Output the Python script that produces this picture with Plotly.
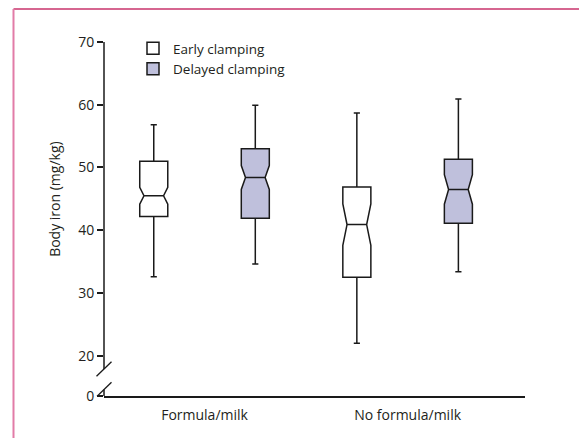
import plotly.graph_objects as go

# ---------------- data ----------------
categories = ["Formula/milk", "No formula/milk"]

early_lower = [32.6, 22.0]
early_q1 = [42.2, 32.5]
early_median = [45.5, 40.9]
early_q3 = [51.0, 46.9]
early_upper = [56.8, 58.7]
early_notch = [1.35, 3.3]

delayed_lower = [34.6, 33.4]
delayed_q1 = [41.9, 41.1]
delayed_median = [48.4, 46.5]
delayed_q3 = [53.0, 51.3]
delayed_upper = [59.9, 60.9]
delayed_notch = [1.9, 2.35]

y_tick_values = [0, 20, 30, 40, 50, 60, 70]
y_tick_labels = ["0", "20", "30", "40", "50", "60", "70"]

# ---------------- styling / layout constants ----------------
# the page body has an 8px default margin, so figure pixels = page pixels - 8
OFF = 8
W, H = 587 - OFF, 438 - OFF
ML, MT = 104 - OFF, 42 - OFF
PLOT_W, PLOT_H = 421, 354
MR = W - ML - PLOT_W
MB = H - MT - PLOT_H
AXIS_FLOOR = 13.58       # axis value drawn at the "0" position (broken axis)
BREAK_HI = 17.88         # upper break slash (axis value)
BREAK_LO = 14.61         # lower break slash (axis value)
TEXT = "#231f20"
LINE = "#1a1a1a"
FILL_DELAYED = "#bfc0dc"
FONT = "Open Sans"
FS = 14

def map_tick(v):
    return AXIS_FLOOR if v == 0 else v

def px_x(page_x):
    return (page_x - OFF - ML) / PLOT_W

def px_y(page_y):
    return 1 - (page_y - OFF - MT) / PLOT_H

fig = go.Figure()
fig.add_trace(go.Box(
    name="Early clamping", x=categories,
    q1=early_q1, median=early_median, q3=early_q3,
    lowerfence=early_lower, upperfence=early_upper, notchspan=early_notch,
    notched=True, notchwidth=0.15, whiskerwidth=0.22, boxpoints=False,
    fillcolor="white", line=dict(color=LINE, width=1.5),
))
fig.add_trace(go.Box(
    name="Delayed clamping", x=categories,
    q1=delayed_q1, median=delayed_median, q3=delayed_q3,
    lowerfence=delayed_lower, upperfence=delayed_upper, notchspan=delayed_notch,
    notched=True, notchwidth=0.15, whiskerwidth=0.22, boxpoints=False,
    fillcolor=FILL_DELAYED, line=dict(color=LINE, width=1.5),
))

shapes = []
# y axis line with a gap between the break marks
for y0, y1 in [(BREAK_HI, 70), (AXIS_FLOOR, BREAK_LO)]:
    shapes.append(dict(type="line", xref="paper", yref="y", x0=0, x1=0, y0=y0, y1=y1,
                       line=dict(color=LINE, width=1.5)))
# break slashes
for yc in [BREAK_HI, BREAK_LO]:
    shapes.append(dict(type="line", xref="paper", yref="y",
                       xsizemode="pixel", xanchor=0, x0=-7.5, x1=7.5,
                       ysizemode="pixel", yanchor=yc, y0=-7.3, y1=7.3,
                       line=dict(color=LINE, width=1.3)))
# pink frame (top crimson line, pink sides)
fx0, fx1 = px_x(13.5), px_x(582)
fy_top, fy_bot = px_y(9), px_y(460)
shapes.append(dict(type="line", xref="paper", yref="paper", x0=fx0, x1=fx1, y0=fy_top, y1=fy_top,
                   line=dict(color="#c8336b", width=1.6)))
for fx in [fx0, fx1]:
    shapes.append(dict(type="line", xref="paper", yref="paper", x0=fx, x1=fx, y0=fy_bot, y1=fy_top,
                       line=dict(color="#e27ca7", width=2)))

fig.update_layout(
    width=W, height=H,
    margin=dict(l=ML, r=MR, t=MT, b=MB, pad=0, autoexpand=False),
    paper_bgcolor="white", plot_bgcolor="white",
    font=dict(family=FONT, size=FS, color=TEXT),
    boxmode="group", boxgap=0.0, boxgroupgap=0.724,
    showlegend=True,
    legend=dict(x=px_x(133), xanchor="left", y=px_y(33), yanchor="top",
                bgcolor="rgba(0,0,0,0)", font=dict(family=FONT, size=13.5, color=TEXT),
                tracegroupgap=0, itemclick=False),
    xaxis=dict(type="category", range=[-0.495, 1.578], showline=True, linecolor=LINE,
               linewidth=1.5, ticks="", showgrid=False, zeroline=False,
               tickfont=dict(family=FONT, size=FS, color=TEXT), ticklabelstandoff=5),
    yaxis=dict(range=[AXIS_FLOOR, 70], showline=False, showgrid=False, zeroline=False,
               ticks="outside", ticklen=6, tickwidth=1.5, tickcolor=LINE,
               tickvals=[map_tick(v) for v in y_tick_values], ticktext=y_tick_labels,
               tickfont=dict(family=FONT, size=FS, color=TEXT)),
    shapes=shapes,
    annotations=[dict(text="Body iron (mg/kg)", xref="paper", yref="y",
                      x=px_x(55), xanchor="center", y=45, yanchor="middle",
                      textangle=-90, showarrow=False,
                      font=dict(family=FONT, size=FS, color=TEXT))],
)

fig.write_html("out.html")
